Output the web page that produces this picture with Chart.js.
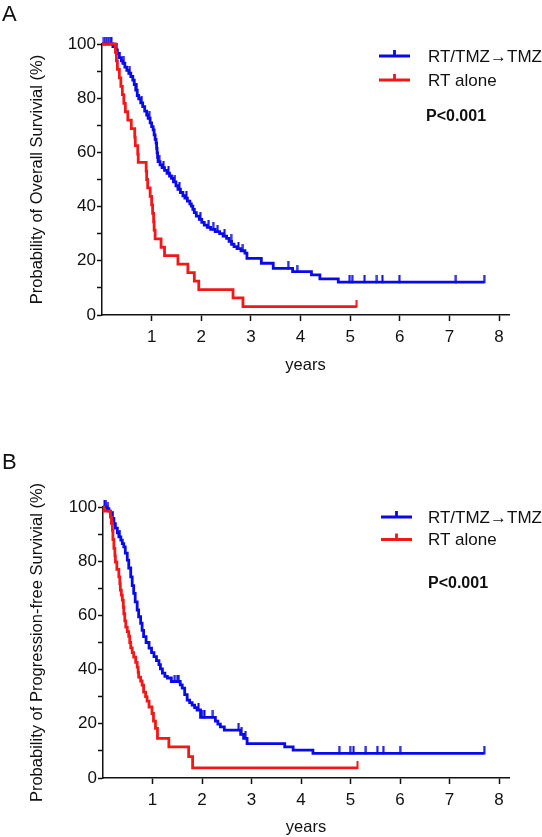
<!DOCTYPE html>
<html>
<head>
<meta charset="utf-8">
<script src="https://cdn.jsdelivr.net/npm/chart.js@4.4.0/dist/chart.umd.min.js"></script>
<style>
  html, body { margin: 0; padding: 0; background: #fff; }
  body { width: 542px; height: 837px; position: relative; overflow: hidden; font-family: "Liberation Sans", Arial, sans-serif; }
  .panel { position: absolute; left: 0; }
  .letter { position: absolute; left: 2px; font-size: 22px; line-height: 22px; color: #111; }
</style>
</head>
<body>
<div class="panel" style="top:0"><canvas id="chart-os" width="542" height="400"></canvas></div>
<div class="panel" style="top:400px"><canvas id="chart-pfs" width="542" height="437"></canvas></div>
<div class="letter" style="top:3px">A</div>
<div class="letter" style="top:451px">B</div>
<script>
const xTicks = [1, 2, 3, 4, 5, 6, 7, 8];
const yTicks = [0, 10, 20, 30, 40, 50, 60, 70, 80, 90, 100];
const yTickLabels = ['0', '', '20', '', '40', '', '60', '', '80', '', '100'];
const seriesNames = ['RT/TMZ\u2192TMZ', 'RT alone'];
const pValue = 'P<0.001';

// Overall survival (years, % alive)
const osTmzTimes = [0, 0.22, 0.27, 0.31, 0.35, 0.39, 0.42, 0.46, 0.50, 0.54, 0.58, 0.62, 0.65, 0.68, 0.71, 0.74, 0.78, 0.82, 0.86, 0.90, 0.93, 0.97, 1.00, 1.03, 1.05, 1.07, 1.09, 1.10, 1.11, 1.12, 1.13, 1.17, 1.21, 1.26, 1.31, 1.36, 1.40, 1.44, 1.49, 1.53, 1.58, 1.63, 1.67, 1.72, 1.77, 1.80, 1.83, 1.86, 1.90, 1.96, 2.01, 2.06, 2.12, 2.19, 2.28, 2.37, 2.44, 2.51, 2.56, 2.61, 2.66, 2.72, 2.80, 2.88, 2.92, 3.21, 3.45, 3.84, 4.22, 4.39, 4.76, 7.70];
const osTmzSurv = [100, 99.0, 97.8, 96.5, 95.0, 93.8, 92.9, 91.5, 90.3, 89.2, 88.0, 86.7, 85.0, 83.0, 81.0, 79.8, 78.3, 76.9, 75.2, 73.8, 72.6, 70.9, 69.5, 68.3, 66.5, 64.8, 63.4, 61.5, 59.8, 58.2, 56.6, 55.4, 54.4, 53.4, 52.3, 51.3, 50.4, 49.1, 47.7, 46.4, 45.2, 44.0, 43.1, 42.0, 41.0, 40.2, 39.0, 37.8, 36.5, 35.3, 34.2, 33.2, 32.3, 31.6, 30.8, 30.0, 29.1, 28.3, 27.2, 26.1, 25.2, 24.5, 23.7, 22.8, 20.9, 19.1, 17.2, 16.0, 14.8, 13.3, 12.1, 12.1];
const osTmzCensor = [0.04, 0.08, 0.12, 0.16, 0.19, 0.30, 0.44, 0.56, 0.70, 0.80, 0.95, 1.15, 1.24, 1.34, 1.47, 1.56, 1.70, 1.98, 2.15, 2.24, 2.33, 2.47, 2.60, 2.75, 2.84, 3.75, 3.93, 4.99, 5.04, 5.29, 5.54, 5.65, 5.99, 7.13, 7.70];
const osRtTimes = [0, 0.27, 0.29, 0.31, 0.35, 0.38, 0.41, 0.44, 0.47, 0.52, 0.59, 0.66, 0.67, 0.72, 0.73, 0.89, 0.90, 0.92, 0.97, 1.00, 1.02, 1.04, 1.05, 1.07, 1.19, 1.26, 1.53, 1.73, 1.86, 1.95, 2.64, 2.84, 5.13];
const osRtSurv = [100, 96.9, 93.8, 90.6, 87.5, 84.4, 81.3, 78.1, 75.0, 71.9, 68.8, 65.6, 62.5, 59.4, 56.3, 53.1, 50.0, 46.9, 43.8, 40.6, 37.5, 34.4, 31.3, 28.1, 25.0, 21.9, 18.8, 15.6, 12.5, 9.4, 6.3, 3.1, 3.1];
const osRtCensor = [5.13];

// Progression-free survival (years, % free)
const pfsTmzTimes = [0, 0.08, 0.12, 0.15, 0.18, 0.22, 0.25, 0.29, 0.32, 0.36, 0.39, 0.42, 0.45, 0.49, 0.52, 0.56, 0.59, 0.62, 0.65, 0.69, 0.72, 0.76, 0.79, 0.82, 0.87, 0.93, 0.98, 1.03, 1.08, 1.13, 1.16, 1.20, 1.25, 1.30, 1.38, 1.56, 1.60, 1.65, 1.70, 1.75, 1.80, 1.85, 1.90, 1.97, 2.27, 2.32, 2.37, 2.45, 2.78, 2.84, 2.91, 3.67, 3.84, 4.24, 7.70];
const pfsTmzSurv = [100, 99.4, 98.5, 97.6, 95.8, 93.9, 92.2, 90.5, 89.0, 87.8, 86.5, 85.3, 83.0, 80.4, 77.5, 74.2, 71.0, 68.1, 65.0, 62.0, 59.5, 57.1, 54.5, 52.2, 50.0, 47.9, 46.3, 44.8, 43.3, 41.8, 40.3, 38.7, 37.5, 36.9, 35.6, 34.4, 33.2, 30.8, 28.7, 27.8, 26.9, 26.0, 25.1, 22.4, 21.0, 19.9, 18.9, 17.7, 16.1, 14.6, 12.7, 11.5, 10.3, 9.1, 9.1];
const pfsTmzCensor = [0.03, 0.06, 0.10, 0.20, 0.34, 1.45, 1.50, 1.53, 1.93, 2.00, 2.05, 2.22, 2.74, 2.80, 2.88, 4.77, 4.99, 5.06, 5.31, 5.54, 5.66, 6.00, 7.70];
const pfsRtTimes = [0, 0.02, 0.15, 0.17, 0.19, 0.20, 0.22, 0.24, 0.25, 0.28, 0.32, 0.34, 0.35, 0.37, 0.39, 0.41, 0.42, 0.44, 0.46, 0.49, 0.52, 0.54, 0.56, 0.59, 0.62, 0.66, 0.69, 0.71, 0.72, 0.76, 0.79, 0.82, 0.86, 0.89, 0.93, 0.99, 1.02, 1.06, 1.10, 1.33, 1.73, 1.81, 5.14];
const pfsRtSurv = [100, 98.5, 96.3, 94.0, 91.4, 88.0, 84.7, 82.0, 79.7, 77.0, 74.2, 71.7, 69.3, 67.5, 65.6, 63.0, 60.6, 58.0, 55.7, 54.0, 52.3, 50.0, 48.0, 46.3, 44.6, 42.7, 40.9, 39.0, 37.2, 35.8, 34.3, 31.7, 30.0, 28.4, 26.2, 23.8, 21.0, 18.3, 14.6, 11.5, 7.9, 3.7, 3.7];
const pfsRtCensor = [5.14];

const FONT = '"Liberation Sans", Arial, sans-serif';
const INK = '#111';
const BLUE = '#0a0ae8';
const RED = '#f01818';
Chart.defaults.font.family = FONT;
Chart.defaults.color = INK;

// value of a step curve at time t
const survAt = (times, surv, t) => {
  let s = surv[0];
  for (let i = 0; i < times.length; i++) {
    if (times[i] <= t) s = surv[i];
  }
  return s;
};

// censor mark: a short tick sitting on top of the line
const tickMark = (color) => {
  const c = document.createElement('canvas');
  c.width = 3;
  c.height = 14;
  const ctx = c.getContext('2d');
  ctx.fillStyle = color;
  ctx.fillRect(0.5, 0, 2, 8);
  return c;
};

const kmLegend = {
  id: 'kmLegend',
  afterDraw(chart, args, o) {
    const ctx = chart.ctx;
    ctx.save();
    chart.data.datasets.filter(d => d.showLine).forEach((d, i) => {
      const y = o.top + i * o.gap;
      const mid = (o.x1 + o.x2) / 2;
      ctx.strokeStyle = d.borderColor;
      ctx.lineWidth = 2.8;
      ctx.beginPath();
      ctx.moveTo(o.x1, y);
      ctx.lineTo(o.x2, y);
      ctx.moveTo(mid, y);
      ctx.lineTo(mid, y - 6);
      ctx.stroke();
      ctx.fillStyle = INK;
      ctx.font = '17px ' + FONT;
      ctx.textBaseline = 'middle';
      ctx.fillText(d.label, o.textX, y + 1);
    });
    ctx.font = 'bold 16px ' + FONT;
    ctx.textBaseline = 'middle';
    ctx.fillStyle = INK;
    ctx.fillText(pValue, o.pX, o.pY);
    ctx.restore();
  }
};

function kmChart(id, cfg) {
  const datasets = [];
  cfg.curves.forEach(c => {
    datasets.push({
      label: c.label,
      data: c.times.map((t, j) => ({ x: t, y: c.surv[j] })),
      showLine: true,
      stepped: true,
      borderColor: c.color,
      borderWidth: 2.8,
      pointRadius: 0,
      fill: false,
      clip: false,
      order: c.order,
    });
    datasets.push({
      label: c.label + ' censored',
      data: c.censor.map(t => ({ x: t, y: survAt(c.times, c.surv, t) })),
      showLine: false,
      pointStyle: tickMark(c.color),
      pointRadius: 3,
      clip: false,
      order: c.order,
    });
  });

  return new Chart(document.getElementById(id), {
    type: 'scatter',
    data: { datasets },
    plugins: [kmLegend],
    options: {
      responsive: false,
      animation: false,
      events: [],
      layout: { padding: { left: 0, right: 33, top: cfg.top, bottom: cfg.bottomPad } },
      plugins: {
        legend: { display: false },
        tooltip: { enabled: false },
        kmLegend: cfg.legend,
      },
      scales: {
        x: {
          type: 'linear',
          min: 0,
          max: 8.2,
          afterBuildTicks: s => { s.ticks = xTicks.map(v => ({ value: v })); },
          afterFit: s => { s.height = cfg.xAxisH; },
          ticks: { color: INK, font: { size: 17 }, padding: 6, maxRotation: 0, autoSkip: false },
          grid: { drawOnChartArea: false, tickLength: 6, tickWidth: 1.5, color: INK },
          border: { color: INK, width: 1.5 },
          title: { display: true, text: 'years', color: INK, font: { size: 16.5 }, padding: { top: 0, bottom: 0 } },
        },
        y: {
          type: 'linear',
          min: 0,
          max: 100,
          afterBuildTicks: s => { s.ticks = yTicks.map(v => ({ value: v })); },
          afterFit: s => { s.width = cfg.left; },
          ticks: { color: INK, font: { size: 17 }, padding: 1, autoSkip: false, callback: (v, i) => yTickLabels[i] },
          grid: { drawOnChartArea: false, tickLength: 5, tickWidth: 1.5, color: INK },
          border: { color: INK, width: 1.5 },
          title: { display: true, text: cfg.yTitle, color: INK, font: { size: 16.5 }, padding: { top: 28, bottom: 0 } },
        },
      },
    },
  });
}

kmChart('chart-os', {
  yTitle: 'Probability of Overall Survivial (%)',
  left: 102,
  top: 44,
  bottomPad: 25,
  xAxisH: 60,
  legend: { x1: 379, x2: 410, textX: 428, top: 56, gap: 24, pX: 426, pY: 117 },
  curves: [
    { label: seriesNames[0], times: osTmzTimes, surv: osTmzSurv, censor: osTmzCensor, color: BLUE, order: 1 },
    { label: seriesNames[1], times: osRtTimes, surv: osRtSurv, censor: osRtCensor, color: RED, order: 0 },
  ],
});

kmChart('chart-pfs', {
  yTitle: 'Probability of Progression-free Survivial (%)',
  left: 103,
  top: 107,
  bottomPad: 0,
  xAxisH: 59,
  legend: { x1: 381, x2: 412, textX: 428, top: 117, gap: 22.5, pX: 428, pY: 184 },
  curves: [
    { label: seriesNames[0], times: pfsTmzTimes, surv: pfsTmzSurv, censor: pfsTmzCensor, color: BLUE, order: 1 },
    { label: seriesNames[1], times: pfsRtTimes, surv: pfsRtSurv, censor: pfsRtCensor, color: RED, order: 0 },
  ],
});
</script>
</body>
</html>
